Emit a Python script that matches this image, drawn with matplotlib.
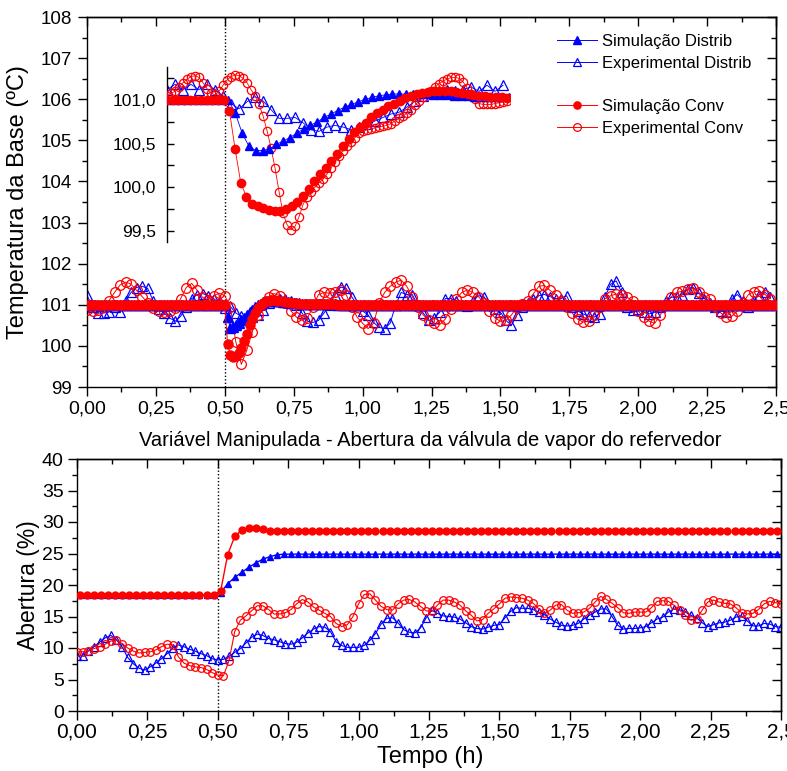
import numpy as np
import matplotlib
matplotlib.use("Agg")
import matplotlib.pyplot as plt
from matplotlib.ticker import MultipleLocator, FuncFormatter, NullFormatter
from matplotlib.lines import Line2D

plt.rcParams['font.family'] = ['Liberation Sans', 'DejaVu Sans']
plt.rcParams['axes.linewidth'] = 1.0

BLUE = '#0000ff'
RED = '#ff0000'

# ---------------- Temperatura da base (h, ºC) ----------------
# experimental series, sampled every 0.02 h
T_EXP_STEP = 0.02
temp_exp_conv = [
    100.87, 100.85, 100.88, 100.95, 101.10, 101.30, 101.48, 101.55, 101.50, 101.35,
    101.20, 101.05, 100.92, 100.85, 100.83, 100.85, 100.92, 101.15, 101.42, 101.52,
    101.35, 101.18, 101.12, 101.22, 101.28, 101.22, 100.95, 100.10, 99.55, 99.90,
    100.35, 100.75, 101.00, 101.20, 101.27, 101.22, 101.05, 100.85, 100.70, 100.62,
    100.68, 100.95, 101.25, 101.30, 101.28, 101.30, 101.35, 101.25, 100.95, 100.70,
    100.55, 100.42, 100.55, 101.05, 101.30, 101.45, 101.55, 101.60, 101.45, 101.20,
    100.95, 100.75, 100.62, 100.55, 100.52, 100.65, 100.90, 101.15, 101.30, 101.36,
    101.30, 101.20, 101.05, 100.85, 100.68, 100.60, 100.62, 100.75, 100.95, 101.03,
    101.10, 101.27, 101.45, 101.47, 101.35, 101.25, 101.10, 100.95, 100.80, 100.65,
    100.58, 100.60, 100.75, 100.95, 101.15, 101.22, 101.26, 101.25, 101.18, 101.10,
    100.85, 100.70, 100.60, 100.55, 100.75, 101.00, 101.20, 101.30, 101.33, 101.38,
    101.40, 101.30, 101.20, 101.15, 100.95, 100.80, 100.70, 100.72, 100.85, 101.05,
    101.25, 101.32, 101.33, 101.25, 101.15,
]
temp_exp_distrib = [
    101.23, 100.95, 100.80, 100.80, 100.82, 100.95, 100.82, 101.10, 101.30, 101.42,
    101.45, 101.40, 101.10, 100.90, 100.80, 100.68, 100.60, 100.72, 100.95, 101.15,
    101.25, 101.27, 101.22, 101.15, 101.05, 100.92, 100.96, 100.80, 100.72, 100.70,
    100.70, 100.75, 100.88, 101.05, 101.12, 101.15, 101.15, 101.10, 101.00, 100.80,
    100.60, 100.57, 100.62, 100.80, 101.00, 101.25, 101.43, 101.40, 101.20, 101.00,
    100.85, 100.75, 100.57, 100.45, 100.42, 100.55, 101.00, 101.30, 101.25, 101.25,
    101.00, 100.80, 100.62, 100.68, 100.82, 101.15, 101.15, 101.08, 101.00, 100.98,
    101.08, 101.22, 101.20, 101.00, 100.90, 100.82, 100.62, 100.50, 100.75, 100.95,
    101.05, 101.15, 101.22, 101.25, 101.20, 101.15, 101.15, 101.22, 100.95, 100.85,
    100.78, 100.72, 100.70, 100.78, 101.20, 101.50, 101.58, 101.30, 100.95, 100.88,
    100.90, 100.82, 100.78, 100.82, 100.95, 101.08, 101.18, 101.20, 101.25, 101.38,
    101.42, 101.28, 101.15, 101.05, 100.95, 100.85, 100.82, 101.15, 101.25, 101.10,
    100.95, 101.10, 101.25, 101.30, 101.20,
]

# simulated series, sampled every 0.01 h (setpoint 101 ºC, disturbance at 0.5 h)
T_SIM_STEP = 0.01
temp_sim_conv = [101.0] * 51 + [
    100.05, 99.78, 99.74, 99.75, 99.82, 99.95, 100.12, 100.30, 100.50, 100.66,
    100.80, 100.92, 101.00, 101.05, 101.08, 101.10, 101.11, 101.11, 101.10, 101.09,
    101.08, 101.07, 101.06, 101.05, 101.04, 101.04, 101.03, 101.03, 101.02, 101.02,
    101.02, 101.01, 101.01, 101.01, 101.01, 101.01, 101.01, 101.01, 101.01, 101.01,
] + [101.0] * 160
temp_sim_distrib = [101.0] * 51 + [
    100.70, 100.43, 100.45, 100.50, 100.56, 100.62, 100.68, 100.75, 100.82, 100.88,
    100.94, 100.99, 101.03, 101.06, 101.08, 101.09, 101.10, 101.10, 101.09, 101.08,
    101.07, 101.07, 101.06, 101.05, 101.05, 101.04, 101.04, 101.03, 101.03, 101.02,
    101.02, 101.02, 101.01, 101.01, 101.01, 101.01, 101.01, 101.01, 101.01, 101.01,
] + [101.0] * 160

# ---------------- Detalhe do transiente (encarte) ----------------
INSET_T0 = 0.45
inset_exp_conv_step = 0.00328
inset_exp_conv = [
    101.05, 101.08, 101.10, 101.15, 101.20, 101.24, 101.27, 101.28, 101.26, 101.20,
    101.13, 101.08, 101.06, 101.10, 101.17, 101.23, 101.27, 101.29, 101.28, 101.25,
    101.20, 101.12, 101.05, 100.95, 100.82, 100.65, 100.45, 100.22, 99.95, 99.70,
    99.57, 99.51, 99.55, 99.66, 99.80, 99.89, 99.95, 100.00, 100.05, 100.09,
    100.15, 100.22, 100.29, 100.36, 100.42, 100.47, 100.52, 100.57, 100.62, 100.64,
    100.66, 100.67, 100.68, 100.69, 100.70, 100.71, 100.73, 100.76, 100.79, 100.82,
    100.85, 100.89, 100.94, 100.99, 101.03, 101.07, 101.11, 101.15, 101.19, 101.22,
    101.24, 101.26, 101.26, 101.25, 101.21, 101.14, 101.07, 101.01, 100.96, 100.95,
    100.95, 100.95, 100.96, 100.97, 100.98, 100.99,
]
inset_sim_conv_step = 0.00465
inset_sim_conv = [101.0] * 11 + [
    100.88, 100.44, 100.05, 99.89, 99.81, 99.78, 99.76, 99.74, 99.73, 99.73,
    99.75, 99.78, 99.83, 99.90, 99.98, 100.07, 100.15, 100.22, 100.30, 100.38,
    100.47, 100.55, 100.63, 100.69, 100.74, 100.80, 100.85, 100.89, 100.93, 100.96,
    100.99, 101.02, 101.05, 101.07, 101.08, 101.09, 101.10, 101.10, 101.10, 101.10,
    101.09, 101.08, 101.07, 101.06, 101.05, 101.05, 101.04, 101.03, 101.03, 101.02,
]
inset_sim_distrib_step = 0.0056
inset_sim_distrib = [101.0] * 9 + [
    101.00, 100.85, 100.62, 100.47, 100.42, 100.42, 100.44, 100.49, 100.53, 100.57,
    100.62, 100.67, 100.71, 100.75, 100.80, 100.84, 100.88, 100.92, 100.95, 100.98,
    101.01, 101.03, 101.05, 101.06, 101.07, 101.07, 101.07, 101.07,
    101.07, 101.07, 101.06, 101.06, 101.06, 101.05, 101.05, 101.05, 101.04, 101.04,
    101.04, 101.03, 101.03, 101.03,
]
inset_exp_distrib_step = 0.00656
inset_exp_distrib = [
    101.12, 101.18, 101.12, 101.18, 101.12, 101.18, 101.12, 101.05, 100.96, 100.90,
    100.98, 101.04, 100.99, 100.89, 100.79, 100.79, 100.80, 100.74, 100.66, 100.64,
    100.69, 100.71, 100.69, 100.66, 100.69, 100.72, 100.76, 100.80, 100.84, 100.86,
    100.92, 100.99, 101.05, 101.08, 101.10, 101.12, 101.10, 101.12, 101.15, 101.10,
    101.17, 101.10, 101.17,
]

# ---------------- Abertura da válvula (%) ----------------
A_EXP_STEP = 0.02
abert_exp_conv = [
    9.4, 9.4, 9.6, 9.9, 10.2, 10.6, 11.1, 11.3, 10.7, 10.0,
    9.5, 9.2, 9.3, 9.4, 9.7, 10.2, 10.6, 10.5, 8.6, 7.6,
    7.2, 7.0, 6.9, 6.6, 6.1, 5.7, 5.6, 8.0, 12.6, 14.4,
    15.1, 15.9, 16.7, 16.7, 16.1, 15.4, 15.4, 15.6, 16.1, 17.0,
    17.7, 17.3, 16.5, 16.0, 15.5, 15.0, 13.9, 13.4, 13.7, 15.0,
    17.0, 18.5, 18.6, 17.6, 16.6, 16.1, 16.0, 17.0, 17.6, 17.7,
    17.3, 16.6, 15.9, 15.8, 16.8, 17.6, 17.6, 17.3, 16.8, 15.9,
    15.2, 14.3, 14.5, 15.5, 16.2, 17.0, 17.9, 18.1, 18.0, 17.9,
    17.6, 17.1, 16.2, 15.5, 16.0, 16.8, 16.9, 16.0, 15.5, 15.6,
    15.7, 16.3, 17.3, 18.2, 17.7, 17.1, 16.4, 15.6, 15.5, 15.7,
    15.7, 15.7, 16.4, 17.4, 17.5, 17.4, 16.8, 16.0, 15.2, 14.4,
    14.6, 16.0, 17.3, 17.6, 17.3, 17.1, 17.0, 16.4, 15.6, 15.4,
    15.5, 16.1, 17.0, 17.4, 17.2, 17.0,
]
abert_exp_distrib = [
    8.7, 8.8, 9.5, 10.2, 10.9, 11.6, 12.0, 11.3, 10.2, 8.5,
    7.5, 6.8, 6.5, 7.0, 7.6, 8.3, 9.1, 10.0, 10.5, 10.2,
    9.8, 9.5, 9.1, 8.8, 8.3, 8.1, 8.2, 8.7, 9.3, 9.9,
    10.8, 11.7, 12.2, 12.0, 11.5, 11.3, 11.0, 10.7, 10.6, 10.9,
    11.6, 12.4, 13.0, 13.4, 13.3, 12.6, 11.0, 10.4, 10.1, 10.1,
    10.1, 10.4, 11.2, 12.3, 13.8, 14.7, 14.8, 14.0, 12.9, 12.5,
    12.4, 13.2, 14.8, 16.0, 15.5, 15.1, 15.0, 14.9, 14.6, 14.0,
    13.4, 13.1, 13.0, 13.3, 13.6, 13.7, 14.8, 15.8, 16.4, 16.3,
    16.3, 16.1, 15.7, 15.3, 14.6, 14.1, 13.6, 13.5, 13.6, 13.9,
    14.6, 15.2, 15.7, 16.2, 16.2, 15.0, 13.6, 13.0, 13.1, 13.1,
    13.2, 13.4, 14.0, 14.6, 14.9, 15.7, 16.2, 16.1, 15.7, 15.2,
    14.8, 14.0, 13.4, 13.7, 14.0, 14.1, 14.4, 14.9, 15.1, 14.3,
    13.5, 13.5, 13.9, 13.8, 13.4, 13.3,
]
A_SIM_T0, A_SIM_STEP = 0.01, 0.025
abert_sim_conv = [18.4] * 20 + [19.0, 24.8, 27.7, 28.7, 29.0, 29.1, 28.9, 28.6] + [28.5] * 72
abert_sim_distrib = [18.4] * 20 + [18.8, 20.2, 21.2, 22.0, 22.8, 23.5, 24.1, 24.5, 24.8] + [24.9] * 71

T_STEP_CHANGE = 0.5

x_ticks_major, x_ticks_minor = 0.25, 0.125


def times(values, step, t0=0.0):
    return t0 + step * np.arange(len(values))


W, H = 787, 771
fig = plt.figure(figsize=(W / 100, H / 100), dpi=100)


def box(left, top, right, bottom):
    return [left / W, 1 - bottom / H, (right - left) / W, (bottom - top) / H]


def hours_label(v, p):
    if abs(v - 2.5) < 1e-9:
        return '2,5'
    return f"{v:.2f}".replace('.', ',')


comma2 = FuncFormatter(hours_label)
comma1 = FuncFormatter(lambda v, p: f"{v:.1f}".replace('.', ','))
intfmt = FuncFormatter(lambda v, p: f"{v:.0f}")

NARROW = ['Liberation Sans Narrow', 'Liberation Sans', 'DejaVu Sans']


def frame(ax, ymaj, ymin, xlabsize, ylabsize, xpad, ypad):
    ax.xaxis.set_major_locator(MultipleLocator(x_ticks_major))
    ax.xaxis.set_minor_locator(MultipleLocator(x_ticks_minor))
    ax.yaxis.set_major_locator(MultipleLocator(ymaj))
    ax.yaxis.set_minor_locator(MultipleLocator(ymin))
    ax.xaxis.set_major_formatter(comma2)
    ax.yaxis.set_major_formatter(intfmt)
    ax.tick_params(which='both', direction='out', top=False, right=False, width=1.0)
    ax.tick_params(which='major', length=6.5)
    ax.tick_params(which='minor', length=3.5)
    ax.tick_params(axis='x', labelsize=xlabsize, pad=xpad)
    ax.tick_params(axis='y', labelsize=ylabsize, pad=ypad)
    for lab in ax.get_xticklabels():
        lab.set_family(NARROW)
    sx = ax.secondary_xaxis('top')
    sx.xaxis.set_major_locator(MultipleLocator(x_ticks_major))
    sx.xaxis.set_minor_locator(MultipleLocator(x_ticks_minor))
    sx.xaxis.set_major_formatter(NullFormatter())
    sx.tick_params(which='both', direction='in', width=1.0)
    sx.tick_params(which='major', length=6.5)
    sx.tick_params(which='minor', length=3.5)
    sy = ax.secondary_yaxis('right')
    sy.yaxis.set_major_locator(MultipleLocator(ymaj))
    sy.yaxis.set_minor_locator(MultipleLocator(ymin))
    sy.yaxis.set_major_formatter(NullFormatter())
    sy.tick_params(which='both', direction='in', width=1.0)
    sy.tick_params(which='major', length=6.5)
    sy.tick_params(which='minor', length=3.5)


# ---------------- top panel ----------------
ax1 = fig.add_axes(box(87, 17, 776, 387))
ax1.set_xlim(0, 2.5)
ax1.set_ylim(99, 108)
frame(ax1, 1, 0.5, 14, 13.5, 3.5, 4.5)
ax1.axvline(T_STEP_CHANGE, color='black', ls=(0, (1, 1.5)), lw=1.0, zorder=1)

h_ed, = ax1.plot(times(temp_exp_distrib, T_EXP_STEP), temp_exp_distrib, color=BLUE, lw=0.7,
                 marker='^', ms=7, mfc='none', mec=BLUE, mew=0.9, label='Experimental Distrib', zorder=2)
h_ec, = ax1.plot(times(temp_exp_conv, T_EXP_STEP), temp_exp_conv, color=RED, lw=0.7,
                 marker='o', ms=7, mfc='none', mec=RED, mew=0.9, label='Experimental Conv', zorder=3)
h_sd, = ax1.plot(times(temp_sim_distrib, T_SIM_STEP), temp_sim_distrib, color=BLUE, lw=0.7,
                 marker='^', ms=6.5, mfc=BLUE, mec=BLUE, label='Simulação Distrib', zorder=4)
h_sc, = ax1.plot(times(temp_sim_conv, T_SIM_STEP), temp_sim_conv, color=RED, lw=0.7,
                 marker='o', ms=6.5, mfc=RED, mec=RED, label='Simulação Conv', zorder=5)

blank = Line2D([], [], color='none', label=' ')
ax1.legend([h_sd, h_ed, blank, h_sc, h_ec],
           ['Simulação Distrib', 'Experimental Distrib', ' ', 'Simulação Conv', 'Experimental Conv'],
           loc='upper left', bbox_to_anchor=(557 / W, 1 - 34 / H), bbox_transform=fig.transFigure,
           frameon=False, borderpad=0, borderaxespad=0, handlelength=2.4, handletextpad=0.3,
           labelspacing=0.4, fontsize=12, numpoints=1, markerscale=0.8)

# inset with the transient detail
axin = fig.add_axes(box(167, 67, 510, 242))
axin.patch.set_visible(False)
axin.set_xlim(INSET_T0, 0.7312)
axin.set_ylim(99.37, 101.38)
for s in ('top', 'right', 'bottom'):
    axin.spines[s].set_visible(False)
axin.xaxis.set_visible(False)
axin.yaxis.set_major_locator(MultipleLocator(0.5))
axin.yaxis.set_minor_locator(MultipleLocator(0.25))
axin.yaxis.set_major_formatter(comma1)
axin.tick_params(axis='y', which='both', direction='in', length=5, width=1.0, labelsize=12.5, pad=8)

axin.plot(times(inset_exp_distrib, inset_exp_distrib_step, INSET_T0), inset_exp_distrib, color=BLUE,
          lw=0.6, marker='^', ms=6.5, mfc='none', mec=BLUE, mew=0.9, zorder=2)
axin.plot(times(inset_exp_conv, inset_exp_conv_step, INSET_T0), inset_exp_conv, color=RED,
          lw=0.6, marker='o', ms=6, mfc='none', mec=RED, mew=0.9, zorder=3)
axin.plot(times(inset_sim_distrib, inset_sim_distrib_step, INSET_T0), inset_sim_distrib, color=BLUE,
          lw=0.6, marker='^', ms=6, mfc=BLUE, mec=BLUE, zorder=4)
axin.plot(times(inset_sim_conv, inset_sim_conv_step, INSET_T0), inset_sim_conv, color=RED,
          lw=0.6, marker='o', ms=6, mfc=RED, mec=RED, zorder=5)

fig.text(18 / W, 1 - 202 / H, 'Temperatura da Base (ºC)', rotation=90, ha='center', va='center', fontsize=17)

# ---------------- bottom panel ----------------
ax2 = fig.add_axes(box(77, 459, 781, 711))
ax2.set_xlim(0, 2.5)
ax2.set_ylim(0, 40)
frame(ax2, 5, 2.5, 15, 14, 1.5, 3)
ax2.axvline(T_STEP_CHANGE, color='black', ls=(0, (1, 1.5)), lw=1.0, zorder=1)

ax2.plot(times(abert_exp_distrib, A_EXP_STEP), abert_exp_distrib, color=BLUE, lw=0.8,
         marker='^', ms=5.5, mfc='none', mec=BLUE, mew=0.9, zorder=2)
ax2.plot(times(abert_exp_conv, A_EXP_STEP), abert_exp_conv, color=RED, lw=0.8,
         marker='o', ms=5.5, mfc='none', mec=RED, mew=0.9, zorder=3)
ax2.plot(times(abert_sim_distrib, A_SIM_STEP, A_SIM_T0), abert_sim_distrib, color=BLUE, lw=1.0,
         marker='^', ms=5, mfc=BLUE, mec=BLUE, zorder=4)
ax2.plot(times(abert_sim_conv, A_SIM_STEP, A_SIM_T0), abert_sim_conv, color=RED, lw=1.0,
         marker='o', ms=5, mfc=RED, mec=RED, zorder=5)

fig.text(430 / W, 1 - 440 / H, 'Variável Manipulada - Abertura da válvula de vapor do refervedor',
         ha='center', va='center', fontsize=14.5)
fig.text(28 / W, 1 - 585 / H, 'Abertura (%)', rotation=90, ha='center', va='center', fontsize=16.5)
fig.text(430 / W, 1 - 757 / H, 'Tempo (h)', ha='center', va='center', fontsize=17)

fig.savefig('out.png', dpi=100)
